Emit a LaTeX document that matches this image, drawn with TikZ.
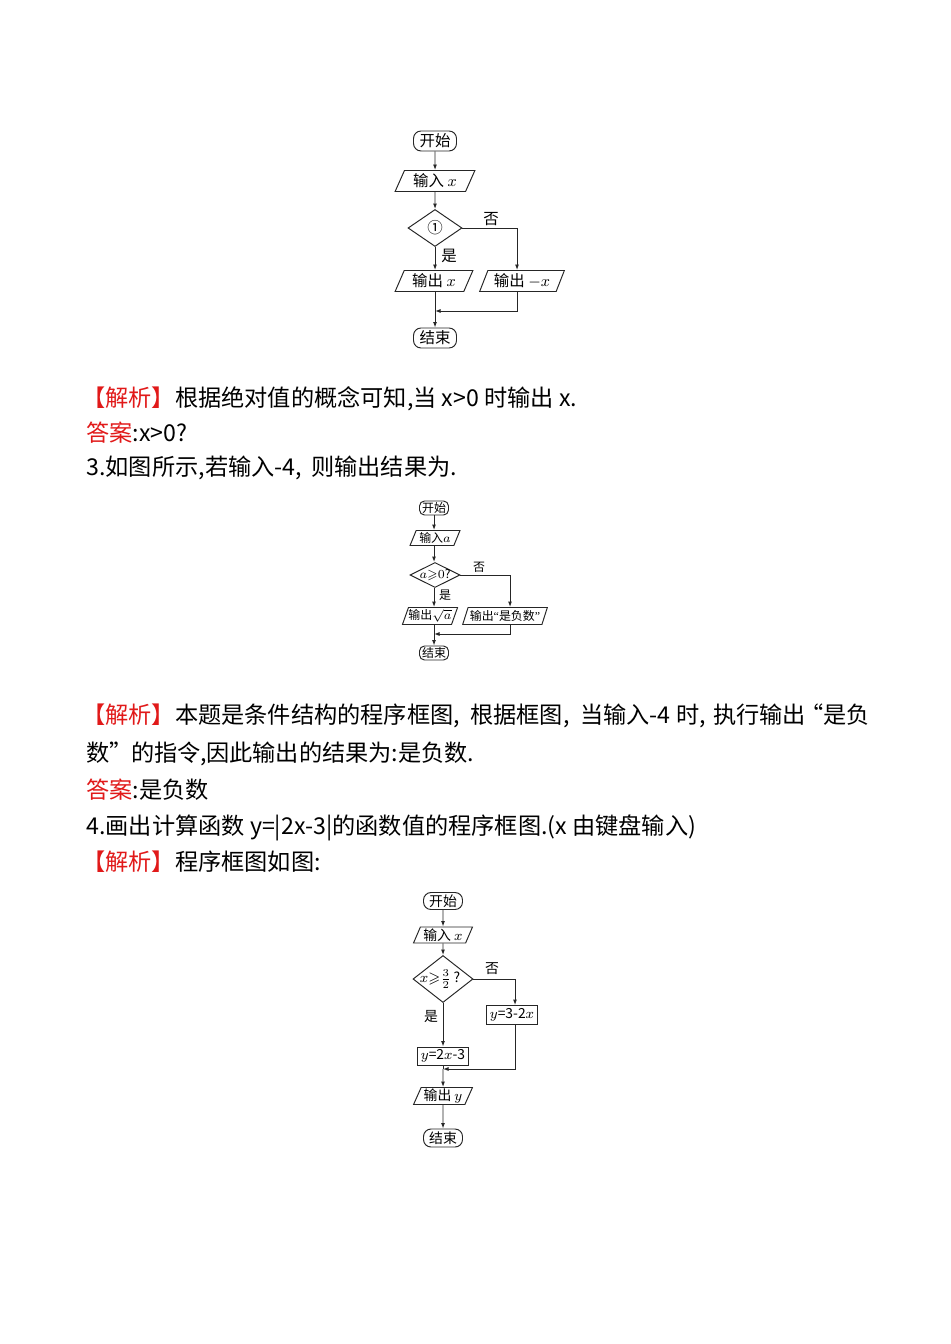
\documentclass[tikz,border=0pt]{standalone}
\usepackage{amsmath, amssymb}
\usepackage{fontspec}
\setmainfont{Liberation Serif}
\newfontfamily\cjk{Noto Sans CJK SC}
\usetikzlibrary{positioning,arrows.meta,shapes.geometric}
\definecolor{jxred}{RGB}{225,25,25}
\tikzset{
  flowline/.style={-{Latex[length=1.1mm,width=0.8mm]}, line width=0.55pt, black!85},
  plainline/.style={line width=0.55pt, black!85},
  termbox/.style={draw=black!85, line width=0.55pt, rounded corners=0.15cm, inner sep=0, align=center},
  iobox/.style={draw=black!85, line width=0.55pt, trapezium, trapezium left angle=65, trapezium right angle=115, trapezium stretches=true, inner sep=0},
  decbox/.style={draw=black!85, line width=0.55pt, diamond, inner sep=0},
  procbox/.style={draw=black!85, line width=0.55pt, inner sep=0},
  bodytext/.style={anchor=base west, inner sep=0, font=\cjk\fontsize{13.2}{16}\selectfont}
}
\newcommand{\jx}{{\color{jxred}【解析】}}
\newcommand{\da}{{\color{jxred}答案}}
\newcommand{\fixw}[1]{\makebox[1pt]{#1}}

\begin{document}
\begin{tikzpicture}[x=0.02cm, y=-0.02cm]
  \useasboundingbox[fill=white] (0,0) rectangle (950,1344);

  % first chart
  \begin{scope}[every node/.append style={font=\cjk\fontsize{8.8}{10}\selectfont}]
    \node[termbox, minimum width=0.86cm, minimum height=0.4cm] (start1) at (435,141) {开始};
    \node[iobox, minimum width=1.6cm, minimum height=0.42cm] (in1) at (435,181) {输入 $x$};
    \node[decbox, minimum width=1.08cm, minimum height=0.74cm] (dec1) at (435,228) {\fixw{①}};
    \node[iobox, minimum width=1.56cm, minimum height=0.42cm] (outx1) at (434,281) {输出 $x$};
    \node[iobox, minimum width=1.7cm, minimum height=0.42cm] (outneg1) at (522,281) {输出 $-x$};
    \node[termbox, minimum width=0.86cm, minimum height=0.4cm] (end1) at (435,338) {结束};
    \node (no1) at (491,219) {否};
    \node (yes1) at (449,256) {是};
    \coordinate (merge1) at (435,311);
    \draw[flowline] (start1) -- (in1);
    \draw[flowline] (in1) -- (dec1);
    \draw[flowline] (dec1.south) -- (dec1.south |- outx1.north);
    \draw[flowline] (dec1.east) -| ([xshift=-0.1cm]outneg1.north);
    \draw[flowline] (outx1.south -| end1) -- (end1);
    \draw[flowline] ([xshift=-0.1cm]outneg1.south) |- (merge1);
  \end{scope}

  \node[bodytext] (t1a) at (82,406) {\jx 根据绝对值的概念可知,};
  \node[bodytext] (t1b) at (413,406) {当 x>0 时输出 x.};
  \node[bodytext] (t2) at (86,441) {\da:x>0?};
  \node[bodytext] (t3a) at (86,475) {3.如图所示,};
  \node[bodytext] (t3b) at (205,475) {若输入-4,};
  \node[bodytext] (t3c) at (311,475) {则输出结果为.};

  % second chart
  \begin{scope}[every node/.append style={font=\cjk\fontsize{6.8}{8}\selectfont}]
    \node[termbox, minimum width=0.58cm, minimum height=0.28cm, rounded corners=0.1cm] (start2) at (434,508) {开始};
    \node[iobox, minimum width=1.0cm, minimum height=0.3cm] (in2) at (435,538) {输入$a$};
    \node[decbox, minimum width=1.0cm, minimum height=0.5cm] (dec2) at (435,575) {\fixw{$a{\geqslant}0$?}};
    \node[iobox, minimum width=1.1cm, minimum height=0.34cm] (outa2) at (430,616) {输出$\sqrt{a}$};
    \node[iobox, minimum width=1.7cm, minimum height=0.34cm] (outneg2) at (505,616) {输出{\rmfamily“}是负数{\rmfamily”}};
    \node[termbox, minimum width=0.58cm, minimum height=0.28cm, rounded corners=0.1cm] (end2) at (434,653) {结束};
    \node (no2) at (479,567) {否};
    \node (yes2) at (445,595) {是};
    \coordinate (merge2) at (434,634);
    \draw[flowline] (start2) -- (start2 |- in2.north);
    \draw[flowline] (in2.south -| start2) -- (start2 |- dec2.north);
    \draw[flowline] (dec2.south -| start2) -- (start2 |- outa2.north);
    \draw[flowline] (dec2.east) -| ([xshift=0.1cm]outneg2.north);
    \draw[flowline] (outa2.south -| end2) -- (end2);
    \draw[flowline] ([xshift=0.1cm]outneg2.south) |- (merge2);
  \end{scope}

  \node[bodytext] (t4a) at (82,723) {\jx 本题是条件结构的程序框图,};
  \node[bodytext] (t4b) at (470,723) {根据框图,};
  \node[bodytext] (t4c) at (580,723) {当输入-4 时,};
  \node[bodytext] (t4d) at (713,723) {执行输出};
  \node[bodytext] (t4e) at (800,723) {“是负};
  \node[bodytext] (t5a) at (86,761) {数”};
  \node[bodytext] (t5b) at (131,761) {的指令,};
  \node[bodytext] (t5c) at (206,761) {因此输出的结果为:是负数.};
  \node[bodytext] (t6) at (86,798) {\da:是负数};
  \node[bodytext] (t7) at (86,834) {4.画出计算函数 y=|2x-3|的函数值的程序框图.(x 由键盘输入)};
  \node[bodytext] (t8) at (82,870) {\jx 程序框图如图:};

  % third chart
  \begin{scope}[every node/.append style={font=\cjk\fontsize{7.9}{9}\selectfont}]
    \node[termbox, minimum width=0.78cm, minimum height=0.34cm] (start3) at (443,901) {开始};
    \node[iobox, minimum width=1.18cm, minimum height=0.32cm] (in3) at (443,935) {输入 $x$};
    \node[decbox, minimum width=1.2cm, minimum height=0.94cm] (dec3) at (443,979) {\fixw{$x{\geqslant}\frac{3}{2}$\,?\hspace{0.12cm}}};
    \node[procbox, minimum width=1.02cm, minimum height=0.38cm] (alt3) at (512,1015) {$y$=3-2$x$};
    \node[procbox, minimum width=1.02cm, minimum height=0.36cm] (main3) at (443,1056) {$y$=2$x$-3};
    \node[iobox, minimum width=1.18cm, minimum height=0.34cm] (out3) at (443,1096) {输出 $y$};
    \node[termbox, minimum width=0.78cm, minimum height=0.36cm] (end3) at (443,1138) {结束};
    \node (no3) at (492,969) {否};
    \node (yes3) at (431,1017) {是};
    \coordinate (merge3) at (443,1069);
    \draw[flowline] (start3) -- (in3);
    \draw[flowline] (in3) -- (dec3);
    \draw[flowline] (dec3) -- (main3);
    \draw[flowline] (dec3.east) -| ([xshift=0.06cm]alt3.north);
    \draw[plainline] (main3) -- (merge3);
    \draw[flowline] ([xshift=0.06cm]alt3.south) |- (merge3);
    \draw[flowline] (merge3) -- (out3);
    \draw[flowline] (out3) -- (end3);
  \end{scope}
\end{tikzpicture}
\end{document}
